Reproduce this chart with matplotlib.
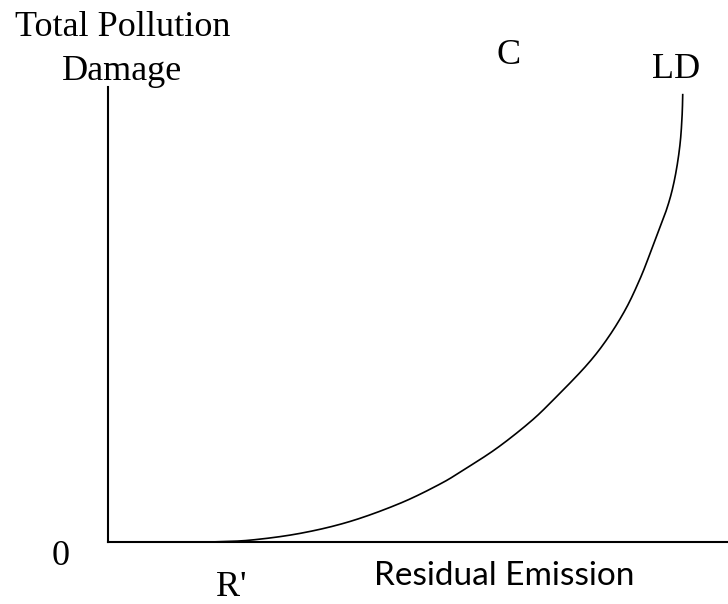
import matplotlib
matplotlib.use("Agg")
import matplotlib.pyplot as plt
import numpy as np

# total damage curve LD (axis units 0-100)
emission = [16.5, 22.9, 31.0, 39.0, 47.1, 53.5, 57.3, 62.7, 68.1, 71.8,
            77.1, 80.5, 83.5, 85.8, 87.4, 88.8, 89.9, 90.9, 91.7, 92.3,
            92.6, 92.7]
damage = [0.0, 0.4, 1.9, 4.5, 8.5, 12.7, 15.8, 20.6, 26.4, 31.2,
          38.7, 44.6, 51.2, 57.8, 63.3, 68.4, 72.3, 76.8, 82.0, 87.9,
          93.8, 98.5]


def catmull_rom(x, y, n=30):
    # smooth curve through the read points
    p = np.column_stack([x, y])
    p = np.vstack([p[0] - (p[1] - p[0]), p, p[-1] + (p[-1] - p[-2])])
    out = []
    s = np.linspace(0, 1, n, endpoint=False)[:, None]
    for i in range(1, len(p) - 2):
        p0, p1, p2, p3 = p[i - 1], p[i], p[i + 1], p[i + 2]
        out.append(0.5 * (2 * p1 + (-p0 + p2) * s
                          + (2 * p0 - 5 * p1 + 4 * p2 - p3) * s ** 2
                          + (-p0 + 3 * p1 - 3 * p2 + p3) * s ** 3))
    out.append(p[-2][None, :])
    out = np.vstack(out)
    return out[:, 0], out[:, 1]


W, H = 728, 604
fig = plt.figure(figsize=(W / 100, H / 100), dpi=100)
ax = fig.add_axes([108 / W, (H - 542) / H, (W - 108) / W, (542 - 87) / H])
ax.set_xlim(0, 100)
ax.set_ylim(0, 100)

xs, ys = catmull_rom(emission, damage)
ys = np.maximum(ys, 0)
ax.plot(xs, ys, color="black", lw=1.2, solid_capstyle="butt")

for s in ["top", "right"]:
    ax.spines[s].set_visible(False)
for s in ["left", "bottom"]:
    ax.spines[s].set_linewidth(1.5)
ax.set_xticks([])
ax.set_yticks([])

serif = dict(family="Liberation Serif", fontsize=26, color="black", va="baseline", ha="center")
fig.text(123 / W, 1 - 36 / H, "Total Pollution", **serif)
fig.text(122.5 / W, 1 - 80 / H, "Damage", **serif)
fig.text(509 / W, 1 - 64 / H, "C", **serif)
fig.text(676 / W, 1 - 78 / H, "LD", **serif)
fig.text(60.5 / W, 1 - 565 / H, "0", **serif)
fig.text(231 / W, 1 - 596 / H, "R'", **serif)
fig.text(504 / W, 1 - 585 / H, "Residual Emission", family="Lato", fontsize=24,
         color="black", va="baseline", ha="center")

fig.savefig("out.png", dpi=100)
